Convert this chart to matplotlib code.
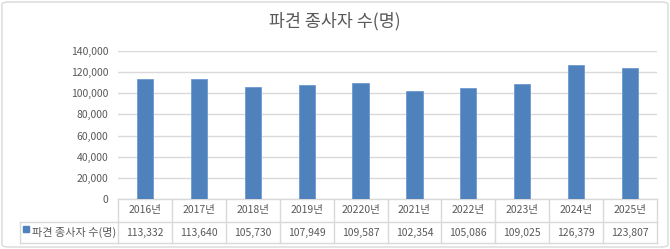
import matplotlib.pyplot as plt
from matplotlib.patches import FancyBboxPatch, Rectangle
from matplotlib.lines import Line2D
import matplotlib.transforms as mtransforms

plt.rcParams['font.family'] = ['Noto Sans CJK KR', 'DejaVu Sans']

# 데이터
years = ["2016년", "2017년", "2018년", "2019년", "20220년",
         "2021년", "2022년", "2023년", "2024년", "2025년"]
workers = [113332, 113640, 105730, 107949, 109587,
           102354, 105086, 109025, 126379, 123807]
series_name = "파견 종사자 수(명)"
title = "파견 종사자 수(명)"

W, H = 670, 249
fig = plt.figure(figsize=(W / 100, H / 100), dpi=100)
text_c = "#595959"
line_c = "#d9d9d9"
bar_c = "#4f81bd"

# 바깥 테두리
fig.add_artist(FancyBboxPatch((2 / W, 2 / H), 1 - 4 / W, 1 - 4 / H,
                              boxstyle="round,pad=0,rounding_size=0.01",
                              transform=fig.transFigure, fill=False,
                              edgecolor=line_c, linewidth=1))

left, right, top, bottom = 118, 657, 51, 199
ax = fig.add_axes([left / W, 1 - bottom / H, (right - left) / W, (bottom - top) / H])

x = list(range(len(years)))
ax.bar(x, workers, width=0.3, color=bar_c, edgecolor="#6d9bd1", linewidth=0.6, zorder=3)
ax.set_xlim(-0.5, len(years) - 0.5)
ax.set_ylim(0, 140000)
ax.set_yticks(range(0, 140001, 20000))
ax.set_yticklabels([f"{v:,}" for v in range(0, 140001, 20000)])
ax.tick_params(axis='y', length=0, labelsize=7.5, labelcolor=text_c, pad=7)
ax.set_xticks([])
ax.grid(axis='y', color=line_c, linewidth=1, zorder=0)
for s in ax.spines.values():
    s.set_visible(False)
ax.axhline(0, color=line_c, linewidth=1, zorder=2, clip_on=False)

fig.text(0.5, 1 - 21 / H, title, ha='center', va='center', fontsize=12.5, color=text_c)

# 데이터 표
blend = mtransforms.blended_transform_factory(ax.transData, fig.transFigure)
y0, y1, y2 = 1 - bottom / H, 1 - 222 / H, 1 - 243 / H
for b in [i - 0.5 for i in range(len(years) + 1)]:
    fig.add_artist(Line2D([b, b], [y0, y2], transform=blend, color=line_c, lw=1))
fig.add_artist(Line2D([-0.5, len(years) - 0.5], [y1, y1], transform=blend, color=line_c, lw=1))
fig.add_artist(Line2D([-0.5, len(years) - 0.5], [y2, y2], transform=blend, color=line_c, lw=1))
fig.add_artist(Line2D([20 / W, left / W], [y1, y1], transform=fig.transFigure, color=line_c, lw=1))
fig.add_artist(Line2D([20 / W, left / W], [y2, y2], transform=fig.transFigure, color=line_c, lw=1))
fig.add_artist(Line2D([20 / W, 20 / W], [y1, y2], transform=fig.transFigure, color=line_c, lw=1))

for i, (yr, v) in enumerate(zip(years, workers)):
    fig.text(i, (y0 + y1) / 2, yr, transform=blend, ha='center', va='center',
             fontsize=7.5, color=text_c)
    fig.text(i, (y1 + y2) / 2, f"{v:,}", transform=blend, ha='center', va='center',
             fontsize=7.5, color=text_c)

fig.add_artist(Rectangle((23 / W, 1 - 232 / H), 6 / W, 6 / H, transform=fig.transFigure,
                         color=bar_c))
fig.text(32 / W, (y1 + y2) / 2, series_name, ha='left', va='center', fontsize=8, color=text_c)

fig.savefig("out.png", dpi=100)
